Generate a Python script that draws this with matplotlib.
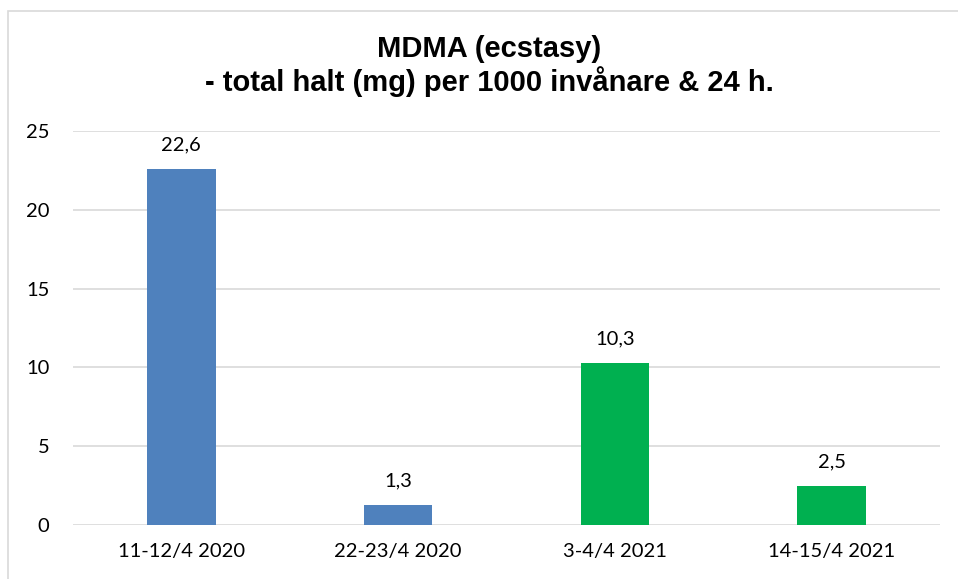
import matplotlib.pyplot as plt
from matplotlib.patches import Rectangle

categories = ["11-12/4 2020", "22-23/4 2020", "3-4/4 2021", "14-15/4 2021"]
values = [22.6, 1.3, 10.3, 2.5]
labels = ["22,6", "1,3", "10,3", "2,5"]
colors = ["#4F81BD", "#4F81BD", "#00B050", "#00B050"]
yticks = [0, 5, 10, 15, 20, 25]

W, H = 958, 579
fig = plt.figure(figsize=(W / 100, H / 100), dpi=100)

# chart border (only top and left visible in the reference)
fig.patches.append(Rectangle((8 / W, -0.1), 1.2, 1 - 11 / H + 0.1,
                             transform=fig.transFigure, fill=False,
                             edgecolor="#D9D9D9", linewidth=1.2))

ax = fig.add_axes([73 / W, 1 - 525 / H, (940 - 73) / W, (525 - 131) / H])

x = range(len(categories))
ax.bar(x, values, width=0.315, color=colors, zorder=3)
for xi, v, lab in zip(x, values, labels):
    ax.annotate(lab, (xi, v), xytext=(0, 11), textcoords="offset points",
                ha="center", va="bottom", fontsize=14.5, family="Lato", color="#000000")

ax.set_xlim(-0.5, len(categories) - 0.5)
ax.set_ylim(0, 25)
ax.set_yticks(yticks)
ax.set_yticklabels([str(t) for t in yticks], fontsize=14.5, family="Lato")
ax.set_xticks(list(x))
ax.set_xticklabels(categories, fontsize=14.5, family="Lato")
ax.tick_params(length=0)
ax.tick_params(axis="x", pad=13)
ax.tick_params(axis="y", pad=17)
ax.grid(axis="y", color="#D9D9D9", linewidth=1.2, zorder=0)
for s in ax.spines.values():
    s.set_visible(False)

fig.text(489 / W, 1 - 66 / H, "MDMA (ecstasy)\n- total halt (mg) per 1000 invånare & 24 h.",
         ha="center", va="center", fontsize=21, fontweight="bold",
         family="Liberation Sans", linespacing=1.1)

fig.savefig("out.png", dpi=100)
